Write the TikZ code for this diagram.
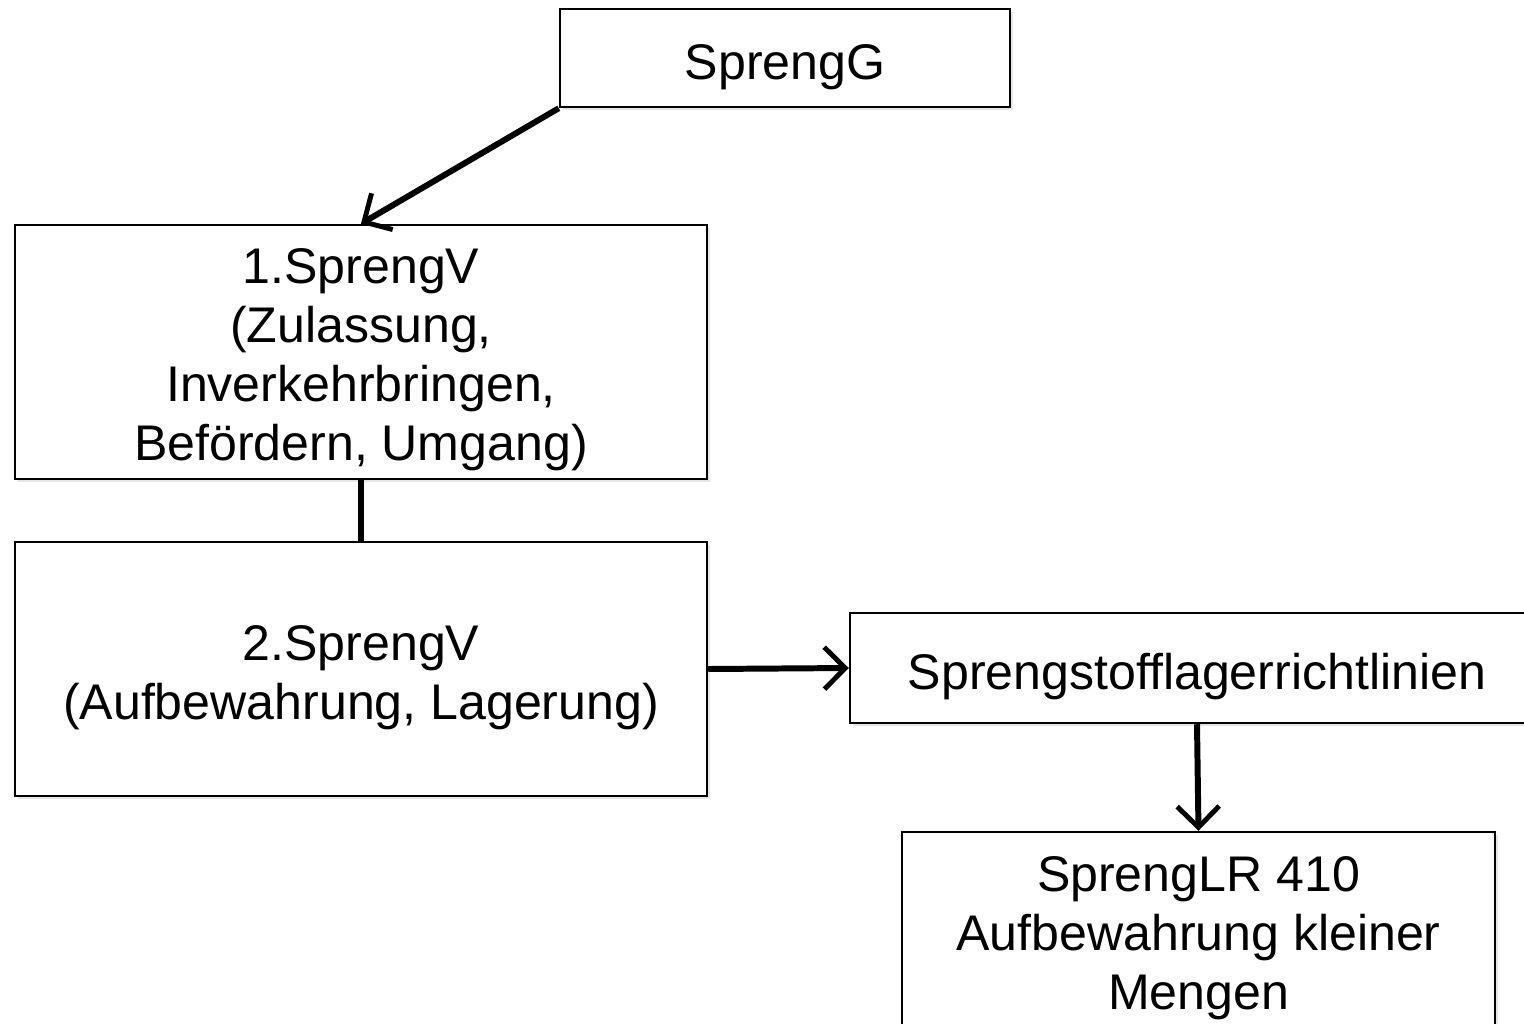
\documentclass[tikz,border=0pt]{standalone}
\usepackage{fontspec}
\setmainfont{Liberation Sans}
\usepackage{tikz}
\usetikzlibrary{arrows.meta,positioning,shadows}
\definecolor{cline}{HTML}{000000}
\definecolor{cshade}{HTML}{9A9A9A}
\tikzset{
  box/.style={draw=cline, line width=1.4pt, fill=white, align=center, inner sep=0pt,
    font=\fontsize{28.5}{33.5}\selectfont,
    execute at begin node={\rule{0pt}{30pt}},
    drop shadow={shadow xshift=0.6mm, shadow yshift=-0.6mm, fill=cshade, opacity=0.25}},
  tallbox/.style={box, execute at begin node={\rule{0pt}{#1}}},
  pre/.style={-{Straight Barb[length=4.2mm, width=8.4mm, line width=2.8pt]}, line width=3.4pt, draw=cline},
  link/.style={line width=3.4pt, draw=cline},
}

\begin{document}
\begin{tikzpicture}[x=1cm,y=1cm]
\useasboundingbox (0,0) rectangle (30.48,-20.46);
\node[box, minimum width=9.0cm, minimum height=1.96cm] (sprengg) at (15.70,-1.16) {SprengG};
\node[tallbox=129.5pt, minimum width=13.84cm, minimum height=5.08cm] (sv1) at (7.22,-7.04) {1.SprengV\\(Zulassung,\\Inverkehrbringen,\\Befördern, Umgang)};
\node[tallbox=63.5pt, minimum width=13.84cm, minimum height=5.08cm] (sv2) at (7.22,-13.38) {2.SprengV\\(Aufbewahrung, Lagerung)};
\node[box, minimum width=13.88cm, minimum height=2.2cm] (slr) at (23.94,-13.36) {Sprengstofflagerrichtlinien};
\node[tallbox=94pt, minimum width=11.86cm, minimum height=4.0cm] (lr410) at (23.97,-18.64) {SprengLR 410\\Aufbewahrung kleiner\\Mengen};
\draw[pre] (sprengg.south west) -- (sv1.north);
\draw[link] (sv1.south) -- (sv2.north);
\draw[pre] (sv2.east) -- (slr.west);
\draw[pre] (slr.south) -- (lr410.north);
\end{tikzpicture}
\end{document}
